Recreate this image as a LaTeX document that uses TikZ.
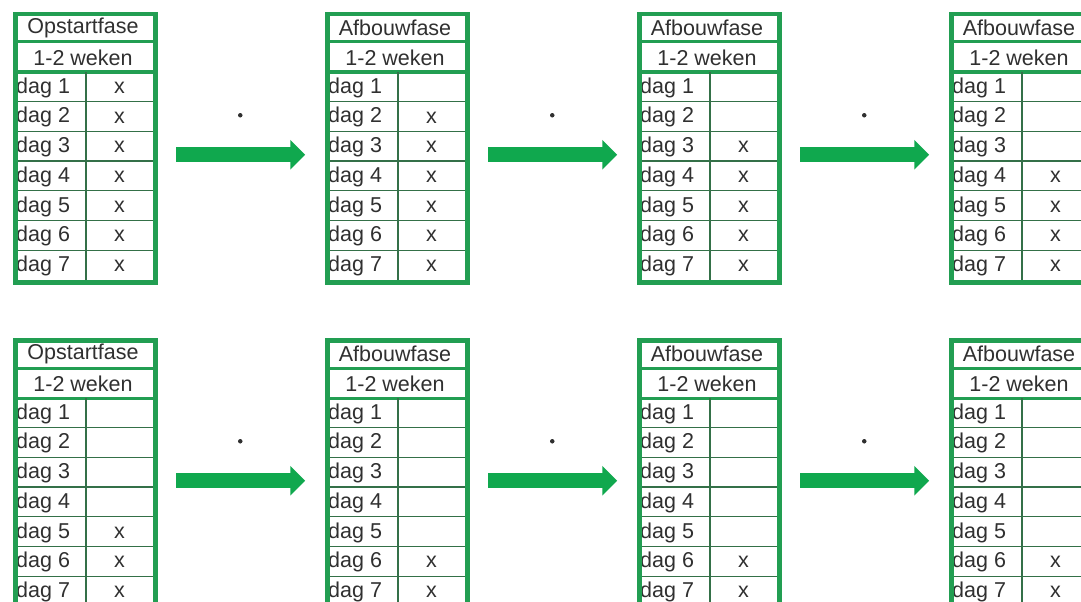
\documentclass[tikz,border=0pt]{standalone}
\usepackage{fontspec}
\setmainfont{Liberation Sans}
\usetikzlibrary{positioning}
\usetikzlibrary{calc}
\usepgflibrary{arrows.meta}
\definecolor{framegreen}{RGB}{34,158,82}
\definecolor{arrowgreen}{RGB}{16,168,78}
\definecolor{rulegreen}{RGB}{52,112,72}
\definecolor{inkgray}{RGB}{48,48,48}

\begin{document}
\begin{tikzpicture}[x=1pt, y=-1pt,
    tabframe/.style={draw=framegreen, line width=4.5pt, inner sep=0pt, minimum width=140pt, minimum height=268pt, anchor=north west},
    headrule/.style={draw=framegreen, line width=3pt},
    dayrule/.style={draw=rulegreen, line width=1.3pt},
    celltext/.style={text=inkgray, inner sep=0pt, font=\fontsize{21.5}{24}\selectfont},
    flow/.style={draw=arrowgreen, line width=15pt, -{Triangle[length=15pt, width=29pt]}, shorten <=18.75pt, shorten >=19.75pt},
    dotmark/.style={circle, fill=inkgray, inner sep=0pt, minimum size=4.5pt}]
  \path[use as bounding box, fill=white] (0, 0) rectangle (1081, 602);
  \clip (0, 0) rectangle (1081, 602);
  \foreach \c/\r/\first/\phase in {0/0/1/Opstartfase, 1/0/2/Afbouwfase, 2/0/3/Afbouwfase, 3/0/4/Afbouwfase, 0/1/5/Opstartfase, 1/1/6/Afbouwfase, 2/1/6/Afbouwfase, 3/1/6/Afbouwfase} {
    \begin{scope}[shift={(13+312*\c, 12+326*\r)}]
      \path[headrule] (0, 30) -- (140, 30) (0, 60) -- (140, 60);
      \foreach \d in {1,...,6} {\path[dayrule] (0, 60+29.7*\d) -- (140, 60+29.7*\d);}
      \path[dayrule] (73, 60) -- (73, 268);
      \node[celltext] (phase-\c-\r) at (70, 16) {\phase};
      \node[celltext] (weeks-\c-\r) at (70, 46) {1-2 weken};
      \foreach \d in {1,...,7} {
        \node[celltext, anchor=west] (day-\c-\r-\d) at (3, 46+29.7*\d) {dag \d};
        \ifnum\d<\first\else\node[celltext] (mark-\c-\r-\d) at (106.5, 46+29.7*\d) {x};\fi
      }
      \node[tabframe] (tab-\c-\r) at (0, 0) {};
    \end{scope}
  }
  \foreach \c [evaluate=\c as \n using int(\c+1)] in {0,1,2} {
    \foreach \r in {0,1} {
      \path[flow] ([yshift=-6.5pt]tab-\c-\r.east) -- ([yshift=-6.5pt]tab-\n-\r.west);
      \node[dotmark] (dot-\c-\r) at ($(tab-\c-\r.east)!0.5!(tab-\n-\r.west) + (-1, -33)$) {};
    }
  }
\end{tikzpicture}
\end{document}
